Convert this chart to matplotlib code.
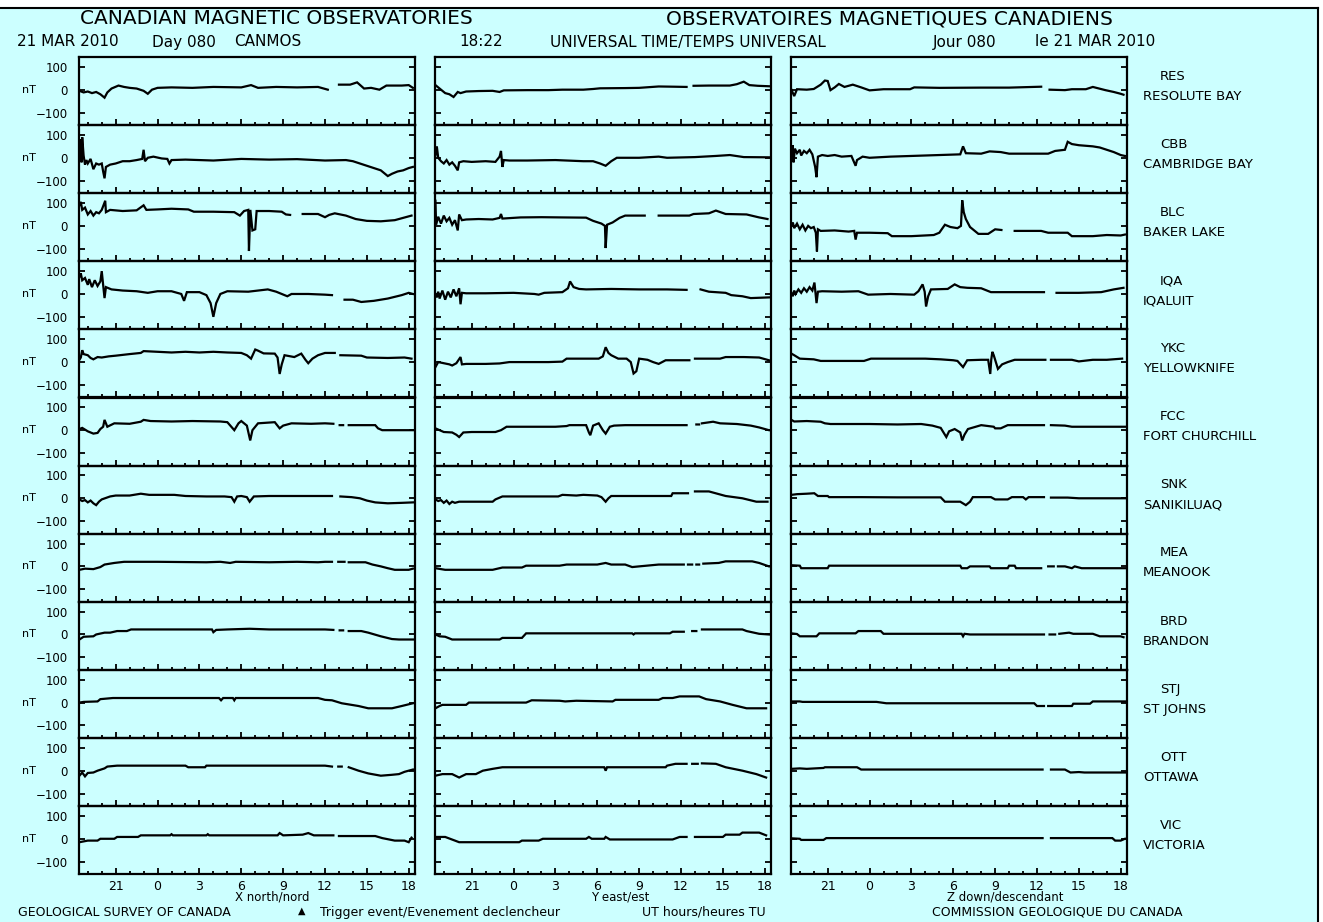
import matplotlib
matplotlib.use('Agg')
import matplotlib.pyplot as plt
import numpy as np
from matplotlib.patches import Rectangle
from matplotlib.lines import Line2D

# ---------------------------------------------------
# traces: (UT hour, nT) pairs, None = data gap; hours < 0 are the previous day

RES_X = [(-5.6,-5),(-5.3,-12),(-5.0,-8),(-4.7,-15),(-4.4,-10),(-4.1,-20),(-3.8,-35),(-3.6,-12),(-3.3,5),(-2.8,18),(-2.4,12),(-2.0,8),(-1.5,5),(-1.0,-5),(-0.7,-18),(-0.4,0),(0.0,8),(1.0,10),(2.5,8),(4.0,12),(6.0,10),(6.7,20),(7.2,8),(8.5,12),(10.0,10),(11.5,12),(12.2,0),(12.4,None),(13.0,22),(13.8,22),(14.3,32),(14.8,5),(15.3,8),(15.9,0),(16.4,18),(17.5,18),(18.0,20),(18.3,8)]
RES_Y = [(-5.6,20),(-5.3,5),(-4.9,-15),(-4.6,-20),(-4.3,-32),(-4.0,-10),(-3.8,-15),(-3.4,-8),(-2.5,-6),(-1.5,-5),(-1.0,-10),(-0.7,-3),(1.0,-2),(2.5,-2),(3.5,0),(5.0,0),(5.7,3),(6.2,6),(8.0,7),(9.0,8),(10.4,14),(11.5,13),(12.4,12),(12.5,None),(12.9,17),(14.0,18),(15.5,18),(16.0,24),(16.5,35),(16.9,20),(17.5,17),(18.3,15)]
RES_Z = [(-5.6,0),(-5.4,-28),(-5.2,2),(-4.5,0),(-4.0,3),(-3.5,22),(-3.2,40),(-3.0,38),(-2.8,-2),(-2.5,10),(-2.2,25),(-1.8,12),(-1.2,22),(-0.6,10),(0.0,-3),(1.0,2),(2.9,2),(3.2,10),(5.0,8),(8.0,9),(10.0,9),(12.3,13),(12.5,None),(12.9,0),(14.0,-2),(14.5,2),(15.5,2),(16.0,12),(16.9,-2),(17.5,-10),(18.0,-18),(18.2,-22)]

CBB_X = [(-5.6,20),(-5.5,80),(-5.45,-20),(-5.4,90),(-5.3,10),(-5.2,-30),(-5.1,-10),(-5.0,-25),(-4.8,-5),(-4.6,-50),(-4.4,-25),(-4.2,-30),(-4.0,-25),(-3.9,-60),(-3.8,-90),(-3.7,-40),(-3.4,-30),(-3.0,-25),(-2.5,-15),(-2.0,-15),(-1.5,-10),(-1.1,-5),(-1.0,35),(-0.9,-15),(-0.7,0),(-0.3,5),(0.3,-3),(0.7,-5),(0.85,-25),(1.0,-10),(2.0,-8),(4.0,-12),(6.0,-5),(8.0,-8),(10.0,-6),(12.0,-12),(13.5,-10),(14.0,-15),(14.5,-25),(15.0,-35),(15.5,-45),(16.0,-55),(16.5,-80),(16.8,-70),(17.2,-60),(17.6,-55),(18.0,-45),(18.3,-40)]
CBB_Y = [(-5.6,10),(-5.5,50),(-5.4,0),(-5.2,-15),(-5.0,-25),(-4.8,-10),(-4.6,-30),(-4.4,-20),(-4.2,-35),(-4.0,-55),(-3.9,-20),(-3.6,-15),(-3.0,-18),(-2.0,-15),(-1.3,-18),(-1.0,5),(-0.9,30),(-0.8,-40),(-0.7,-10),(-0.3,-12),(1.0,-12),(3.0,-10),(5.0,-15),(5.7,-15),(6.2,-25),(6.6,-35),(7.0,-15),(7.4,0),(9.0,0),(10.4,5),(11.0,0),(13.0,3),(14.5,8),(15.5,12),(16.5,3),(18.3,2)]
CBB_Z = [(-5.6,10),(-5.5,55),(-5.45,-20),(-5.35,40),(-5.2,20),(-5.0,35),(-4.9,10),(-4.7,30),(-4.5,20),(-4.3,35),(-4.1,15),(-3.9,-40),(-3.8,-85),(-3.7,5),(-3.4,12),(-3.0,8),(-2.5,12),(-2.0,5),(-1.3,8),(-1.0,-35),(-0.9,-10),(-0.5,5),(0.0,0),(1.5,5),(3.0,8),(5.0,12),(6.5,15),(6.7,50),(6.9,20),(8.0,18),(8.6,28),(9.4,25),(10.0,18),(12.8,18),(13.3,30),(14.0,35),(14.2,70),(14.5,60),(15.0,55),(16.0,50),(16.5,45),(17.0,35),(17.5,25),(18.0,12),(18.3,8)]

BLC_X = [(-5.6,90),(-5.5,105),(-5.4,70),(-5.2,80),(-5.0,50),(-4.8,65),(-4.6,45),(-4.4,60),(-4.2,55),(-4.0,70),(-3.75,110),(-3.7,60),(-3.4,70),(-2.5,65),(-1.5,68),(-1.0,90),(-0.8,70),(0.0,72),(1.0,75),(2.2,72),(2.6,62),(4.0,62),(5.5,60),(5.9,45),(6.2,65),(6.5,70),(6.55,-110),(6.65,70),(6.8,-20),(7.0,-15),(7.1,65),(8.0,65),(8.9,62),(9.2,50),(9.5,48),(9.55,None),(10.4,52),(11.5,52),(12.0,38),(12.3,48),(12.7,55),(13.5,45),(14.2,30),(15.0,22),(16.0,20),(17.0,25),(18.2,45)]
BLC_Y = [(-5.6,110),(-5.55,5),(-5.4,40),(-5.2,10),(-5.0,45),(-4.8,20),(-4.6,35),(-4.4,5),(-4.2,25),(-4.0,-20),(-3.9,50),(-3.7,25),(-3.4,28),(-2.5,30),(-1.5,28),(-1.0,35),(-0.9,52),(-0.8,32),(0.5,37),(2.0,38),(3.5,37),(5.2,36),(5.7,22),(6.3,10),(6.55,0),(6.6,-97),(6.7,5),(7.1,15),(7.6,35),(8.0,45),(9.4,45),(9.45,None),(10.4,45),(12.6,45),(12.9,52),(14.0,55),(14.5,67),(15.2,52),(16.7,50),(17.6,37),(18.2,30)]
BLC_Z = [(-5.6,0),(-5.5,15),(-5.4,-10),(-5.2,10),(-5.0,-15),(-4.8,5),(-4.6,-20),(-4.4,0),(-4.2,-10),(-4.0,-5),(-3.85,-30),(-3.77,-112),(-3.7,-15),(-3.5,-22),(-2.5,-20),(-1.5,-25),(-1.1,-22),(-1.0,-60),(-0.9,-30),(0.0,-30),(1.3,-32),(1.6,-45),(3.0,-45),(4.6,-40),(5.0,-30),(5.4,5),(5.8,-5),(6.3,-10),(6.55,0),(6.64,112),(6.75,60),(6.9,30),(7.2,-5),(7.8,-35),(8.5,-35),(9.0,-15),(9.45,-18),(9.5,None),(10.4,-22),(12.3,-22),(12.8,-30),(14.2,-30),(14.5,-45),(16.0,-45),(17.0,-40),(18.0,-42),(18.3,-38)]

IQA_X = [(-5.6,75),(-5.5,90),(-5.4,60),(-5.2,70),(-5.0,40),(-4.9,65),(-4.7,30),(-4.5,60),(-4.3,35),(-4.1,55),(-4.0,100),(-3.9,40),(-3.8,-18),(-3.7,30),(-3.3,20),(-2.5,15),(-1.5,12),(-0.7,5),(0.0,12),(1.0,12),(1.7,0),(1.9,-30),(2.1,8),(3.0,8),(3.5,-5),(3.8,-40),(4.0,-100),(4.2,-40),(4.5,0),(5.0,12),(6.5,10),(7.9,20),(8.5,10),(9.3,-10),(9.6,0),(10.8,0),(12.0,-3),(12.5,-5),(12.6,None),(13.4,-25),(14.0,-25),(14.6,-35),(15.5,-30),(16.5,-20),(17.5,-5),(18.0,5),(18.3,0)]
IQA_Y = [(-5.6,0),(-5.5,-15),(-5.4,10),(-5.3,-20),(-5.1,15),(-4.9,-25),(-4.7,10),(-4.5,-15),(-4.3,20),(-4.1,-10),(-3.9,25),(-3.8,-45),(-3.7,5),(-3.4,3),(-2.0,3),(0.0,5),(1.5,0),(1.8,-3),(2.2,5),(3.5,8),(3.9,25),(4.05,55),(4.3,30),(4.7,22),(5.2,20),(7.0,22),(9.0,20),(11.0,20),(12.4,18),(12.5,None),(13.4,20),(14.0,10),(15.2,5),(15.6,-5),(16.4,-10),(17.0,-18),(18.3,-15)]
IQA_Z = [(-5.6,5),(-5.5,-10),(-5.4,15),(-5.3,0),(-5.1,20),(-4.9,5),(-4.7,25),(-4.5,10),(-4.3,30),(-4.1,15),(-3.95,50),(-3.8,-40),(-3.7,10),(-3.4,12),(-2.0,10),(-0.8,12),(-0.1,-3),(1.5,0),(3.2,-3),(3.5,12),(3.8,42),(3.95,10),(4.05,-55),(4.2,-10),(4.4,20),(5.6,22),(6.1,42),(6.5,30),(7.0,27),(8.0,25),(8.7,8),(10.0,8),(12.5,8),(12.6,None),(13.4,5),(15.0,5),(16.6,8),(17.5,20),(18.2,27)]

YKC_X = [(-5.6,10),(-5.5,20),(-5.4,52),(-5.3,35),(-5.0,30),(-4.8,18),(-4.6,12),(-4.3,22),(-4.0,20),(-3.5,25),(-3.0,28),(-2.0,35),(-1.2,40),(-1.0,48),(0.0,45),(1.0,42),(2.0,45),(3.0,42),(4.0,45),(5.0,42),(6.0,40),(6.4,30),(6.7,15),(7.0,55),(7.2,50),(7.6,38),(8.4,37),(8.6,20),(8.75,-52),(8.9,-10),(9.1,30),(9.8,22),(10.3,37),(10.6,10),(10.8,-5),(11.1,15),(11.5,30),(12.0,40),(12.7,40),(12.8,None),(13.1,30),(14.6,28),(15.0,20),(16.5,18),(17.7,20),(18.2,15)]
YKC_Y = [(-5.6,-22),(-5.4,0),(-5.0,-5),(-4.6,-10),(-4.4,-15),(-4.1,-5),(-3.8,22),(-3.7,-10),(-3.4,-8),(-2.0,-8),(-1.0,-6),(-0.3,0),(1.0,0),(2.5,0),(3.5,2),(3.8,15),(5.0,15),(6.1,15),(6.4,25),(6.6,65),(6.8,40),(7.0,30),(7.5,15),(8.1,15),(8.4,0),(8.6,-50),(8.8,-40),(9.0,15),(9.6,10),(10.0,0),(10.4,-8),(10.9,8),(12.6,8),(12.7,None),(13.0,15),(14.8,15),(15.2,22),(16.5,22),(17.6,20),(18.3,8)]
YKC_Z = [(-5.6,37),(-5.4,30),(-5.0,15),(-4.0,12),(-3.5,5),(-2.0,5),(-0.4,5),(0.1,15),(2.0,15),(4.0,15),(5.1,12),(6.0,8),(6.3,5),(6.7,-22),(7.0,8),(8.0,10),(8.5,10),(8.65,-52),(8.72,10),(8.8,45),(8.9,30),(9.2,-30),(9.5,-10),(9.9,0),(10.4,10),(12.6,10),(12.7,None),(13.0,10),(14.5,10),(15.0,3),(16.0,10),(17.0,10),(18.1,15)]

FCC_X = [(-5.6,5),(-5.4,10),(-5.0,-5),(-4.6,-15),(-4.3,-12),(-4.1,5),(-3.9,15),(-3.8,45),(-3.6,15),(-3.1,30),(-2.0,28),(-1.2,37),(-1.0,45),(-0.5,40),(1.0,38),(2.5,40),(4.5,38),(5.0,35),(5.5,0),(5.8,30),(6.0,40),(6.4,20),(6.64,-45),(6.8,0),(7.2,30),(8.4,35),(8.75,8),(9.0,20),(9.6,30),(11.0,28),(12.0,30),(12.6,28),(12.7,None),(13.05,22),(13.3,22),(13.35,None),(13.7,22),(15.6,22),(15.8,8),(16.1,0),(18.3,0)]
FCC_Y = [(-5.6,8),(-5.3,0),(-5.0,-8),(-4.4,-10),(-4.1,-20),(-3.9,-30),(-3.6,-10),(-3.0,-8),(-1.3,-8),(-0.9,0),(-0.5,15),(1.0,15),(3.0,15),(3.8,18),(4.0,22),(5.2,22),(5.4,-10),(5.5,-22),(5.7,20),(6.1,30),(6.4,0),(6.6,-15),(6.9,15),(7.2,20),(8.0,22),(10.0,22),(12.4,22),(12.5,None),(13.1,25),(13.3,25),(13.35,None),(13.5,30),(14.3,37),(14.8,30),(16.0,27),(17.0,20),(17.6,12),(18.3,0)]
FCC_Z = [(-5.6,45),(-5.4,38),(-4.5,40),(-3.5,37),(-3.2,30),(-2.8,27),(0.0,27),(2.0,25),(3.7,27),(4.5,20),(5.1,10),(5.5,-30),(5.7,-5),(6.1,5),(6.5,-10),(6.64,-45),(6.8,-20),(7.05,5),(8.0,22),(8.9,15),(9.0,8),(9.4,8),(9.9,22),(12.5,22),(12.6,None),(13.0,22),(14.0,20),(14.5,15),(18.3,15)]

SNK_X = [(-5.6,-5),(-5.4,-12),(-5.2,-8),(-5.0,-18),(-4.8,-10),(-4.6,-22),(-4.4,-30),(-4.2,-15),(-4.0,-5),(-3.4,8),(-3.0,12),(-2.0,12),(-1.2,20),(-0.6,15),(1.2,15),(2.0,10),(3.5,8),(4.8,8),(5.3,5),(5.5,-15),(5.7,8),(6.0,10),(6.4,5),(6.6,-15),(6.9,8),(8.0,10),(10.0,10),(12.0,10),(12.5,10),(12.6,None),(13.1,8),(13.9,5),(14.5,0),(15.0,-10),(15.6,-18),(16.5,-22),(17.5,-20),(18.3,-18)]
SNK_Y = [(-5.6,-5),(-5.4,-12),(-5.2,-8),(-5.0,-20),(-4.8,-10),(-4.6,-25),(-4.4,-15),(-4.2,-20),(-3.9,-15),(-2.5,-15),(-1.5,-15),(-1.3,-5),(-0.8,8),(1.0,8),(3.2,8),(3.5,15),(4.5,12),(5.0,15),(6.0,12),(6.3,5),(6.6,-15),(6.8,0),(7.0,10),(9.0,10),(11.3,10),(11.4,22),(12.5,22),(12.6,None),(13.0,30),(14.0,30),(15.2,10),(16.4,0),(17.4,-15),(18.2,-15)]
SNK_Z = [(-5.6,15),(-5.2,18),(-4.5,20),(-3.96,22),(-3.7,10),(-3.0,10),(-2.9,5),(-1.3,5),(-0.6,5),(2.0,4),(5.1,4),(5.4,-15),(6.1,-15),(6.5,-15),(6.9,-30),(7.2,-15),(7.4,5),(8.7,5),(9.0,-5),(9.9,-5),(10.2,5),(11.0,5),(11.2,-5),(11.4,5),(12.5,5),(12.6,None),(13.0,3),(14.2,3),(15.0,0),(18.3,0)]

MEA_X = [(-5.6,-15),(-5.2,-10),(-4.6,-12),(-4.1,-3),(-3.8,8),(-3.1,15),(-2.4,20),(0.0,20),(3.5,18),(4.5,20),(5.2,15),(5.6,20),(8.0,18),(10.0,20),(11.5,18),(12.0,20),(12.5,20),(12.6,None),(12.95,20),(13.4,20),(13.5,None),(13.7,18),(14.9,18),(15.4,8),(16.0,0),(16.5,-8),(17.0,-15),(18.0,-15),(18.3,-10)]
MEA_Y = [(-5.6,-8),(-5.2,-12),(-4.9,-15),(-3.0,-15),(-1.5,-15),(-0.8,-5),(0.6,-5),(0.9,3),(3.3,3),(3.8,8),(6.0,8),(6.6,15),(7.0,8),(8.0,8),(8.5,-3),(9.0,0),(10.4,8),(11.5,8),(12.2,8),(12.3,None),(12.5,8),(12.8,8),(12.9,None),(13.1,8),(13.3,8),(13.4,None),(13.6,12),(14.7,15),(15.2,22),(17.1,22),(17.6,15),(18.3,0)]
MEA_Z = [(-5.6,5),(-5.0,3),(-4.9,-8),(-3.0,-8),(-2.9,3),(2.0,3),(6.0,3),(6.5,3),(6.6,-8),(7.0,-8),(7.2,0),(8.6,0),(8.7,-8),(9.9,-8),(10.0,3),(10.4,3),(10.5,-8),(12.3,-8),(12.5,None),(12.8,0),(13.2,0),(13.3,None),(13.5,0),(14.0,0),(14.5,-8),(14.7,0),(15.2,-8),(18.3,-8)]

BRD_X = [(-5.6,-22),(-5.3,-10),(-4.6,-8),(-4.4,0),(-3.8,8),(-3.4,8),(-2.9,15),(-2.2,15),(-1.9,22),(0.0,22),(2.0,22),(3.9,22),(4.0,10),(4.2,20),(5.0,22),(6.6,25),(8.0,22),(10.0,22),(12.0,22),(12.6,20),(12.7,None),(13.05,18),(13.3,18),(13.4,None),(13.7,15),(14.6,15),(15.1,8),(16.0,-8),(16.8,-20),(17.3,-22),(18.3,-22)]
BRD_Y = [(-5.6,0),(-5.3,-8),(-4.9,-10),(-4.4,-22),(-2.0,-22),(-1.0,-22),(-0.8,-15),(0.6,-15),(0.9,5),(4.0,5),(8.5,5),(8.6,0),(8.7,5),(11.2,5),(11.4,12),(12.2,12),(12.3,None),(12.8,15),(13.1,15),(13.2,None),(13.5,22),(16.4,22),(16.7,15),(17.6,3),(18.3,0)]
BRD_Z = [(-5.6,5),(-5.2,2),(-5.0,-8),(-3.8,-8),(-3.6,5),(-1.0,5),(-0.8,15),(0.8,15),(1.0,3),(6.6,3),(6.7,-8),(6.8,3),(7.2,0),(10.0,0),(12.5,0),(12.6,None),(12.9,0),(13.3,0),(13.4,None),(13.6,3),(14.3,8),(14.6,3),(16.0,3),(16.5,-8),(18.0,-8),(18.2,-12)]

STJ_X = [(-5.6,0),(-5.3,3),(-4.3,5),(-4.1,15),(-3.2,20),(0.0,20),(2.0,20),(4.4,20),(4.55,10),(4.7,20),(5.4,20),(5.5,10),(5.6,20),(8.0,20),(10.0,20),(11.5,20),(12.0,12),(12.5,10),(13.2,-3),(14.4,-15),(15.1,-25),(16.0,-25),(16.8,-25),(17.5,-15),(18.3,-3)]
STJ_Y = [(-5.6,-25),(-5.3,-15),(-5.1,-10),(-3.4,-10),(-3.2,0),(0.9,0),(1.3,10),(3.3,8),(3.7,5),(4.5,8),(7.1,5),(7.3,12),(10.4,12),(10.7,20),(11.4,20),(11.9,27),(13.3,27),(13.8,15),(14.8,5),(15.7,-10),(16.7,-25),(18.1,-25)]
STJ_Z = [(-5.6,5),(-5.0,5),(-4.8,3),(0.5,3),(1.2,-3),(5.0,-3),(10.0,-3),(11.8,-3),(12.0,-15),(12.5,-15),(12.6,None),(12.8,-15),(14.5,-15),(14.6,-5),(15.8,-5),(16.0,5),(18.3,5)]

OTT_X = [(-5.6,-22),(-5.4,-8),(-5.2,-25),(-5.0,-10),(-4.6,-8),(-4.3,0),(-3.8,10),(-3.6,18),(-2.9,22),(0.0,22),(2.0,22),(2.2,15),(2.6,15),(3.4,15),(3.5,22),(6.0,22),(8.0,22),(10.0,22),(12.0,22),(12.5,18),(12.6,None),(12.95,18),(13.2,18),(13.3,None),(13.7,15),(14.4,0),(15.1,-12),(16.0,-22),(16.8,-18),(17.3,-15),(17.7,-5),(18.3,5)]
OTT_Y = [(-5.6,-22),(-5.1,-15),(-4.4,-15),(-3.9,-30),(-3.4,-15),(-2.7,-15),(-2.2,0),(-1.5,8),(-0.8,15),(3.0,15),(6.5,15),(6.6,0),(6.7,15),(10.9,15),(11.0,22),(11.6,30),(12.4,30),(12.5,None),(12.8,30),(13.2,30),(13.3,None),(13.5,32),(14.5,30),(15.2,15),(16.4,0),(17.4,-15),(18.1,-30)]
OTT_Z = [(-5.6,8),(-5.0,10),(-4.5,8),(-3.3,12),(-3.2,15),(-0.9,15),(-0.6,5),(5.0,5),(10.0,5),(12.4,5),(12.5,None),(13.0,5),(14.0,5),(14.4,-8),(15.0,-6),(15.4,-8),(18.3,-8)]

VIC_X = [(-5.6,-15),(-5.0,-8),(-4.3,-8),(-4.1,0),(-3.1,0),(-2.9,8),(-1.4,8),(-1.2,15),(0.9,15),(1.0,20),(1.1,15),(3.5,15),(3.6,20),(3.7,15),(8.6,15),(8.75,25),(9.0,15),(10.4,18),(10.8,25),(11.2,15),(12.0,15),(12.6,15),(12.7,None),(13.0,12),(15.6,12),(16.1,3),(17.0,-8),(17.7,-8),(18.0,-15),(18.2,5)]
VIC_Y = [(-5.6,8),(-4.9,8),(-4.2,-8),(-3.9,-15),(0.4,-15),(0.6,-8),(1.8,-8),(2.1,0),(5.2,0),(5.4,8),(5.6,0),(6.5,0),(6.6,8),(6.9,-3),(11.4,-3),(11.9,8),(12.4,8),(12.5,None),(13.0,8),(15.0,8),(15.2,18),(16.2,18),(16.4,27),(17.6,27),(18.1,15)]
VIC_Z = [(-5.6,2),(-5.0,0),(-4.9,-5),(-3.3,-5),(-3.1,3),(5.0,3),(12.4,3),(12.5,None),(13.0,3),(17.4,3),(17.6,-8),(18.0,-8),(18.3,0)]

codes = ['RES', 'CBB', 'BLC', 'IQA', 'YKC', 'FCC', 'SNK', 'MEA', 'BRD', 'STJ', 'OTT', 'VIC']
names = ['RESOLUTE BAY', 'CAMBRIDGE BAY', 'BAKER LAKE', 'IQALUIT', 'YELLOWKNIFE',
         'FORT CHURCHILL', 'SANIKILUAQ', 'MEANOOK', 'BRANDON', 'ST JOHNS', 'OTTAWA', 'VICTORIA']
traces = [
    [RES_X, RES_Y, RES_Z], [CBB_X, CBB_Y, CBB_Z], [BLC_X, BLC_Y, BLC_Z],
    [IQA_X, IQA_Y, IQA_Z], [YKC_X, YKC_Y, YKC_Z], [FCC_X, FCC_Y, FCC_Z],
    [SNK_X, SNK_Y, SNK_Z], [MEA_X, MEA_Y, MEA_Z], [BRD_X, BRD_Y, BRD_Z],
    [STJ_X, STJ_Y, STJ_Z], [OTT_X, OTT_Y, OTT_Z], [VIC_X, VIC_Y, VIC_Z],
]
hour_ticks = [-3, 0, 3, 6, 9, 12, 15, 18]
hour_labels = ['21', '0', '3', '6', '9', '12', '15', '18']
comp_labels = ['X north/nord', 'Y east/est', 'Z down/descendant']

# ---------------------------------------------------

W, H = 1323, 922
BG = '#ccffff'
fig = plt.figure(figsize=(W / 100, H / 100), dpi=100, facecolor='white')

def fx(x):
    return x / W

def fy(y):
    return 1 - y / H

fig.patches.append(Rectangle((0, 0), fx(1318), fy(8), transform=fig.transFigure,
                             facecolor=BG, edgecolor='none', zorder=-10))
fig.lines.append(Line2D([0, fx(1318)], [fy(8), fy(8)], transform=fig.transFigure, color='black', lw=1.5))
fig.lines.append(Line2D([fx(1318), fx(1318)], [0, fy(8)], transform=fig.transFigure, color='black', lw=1.5))

col_left = [79, 435, 791]
col_w = 336
row_top = 57
row_h = 68.1

for r in range(12):
    for c in range(3):
        top = row_top + r * row_h
        ax = fig.add_axes([fx(col_left[c]), fy(top + row_h), col_w / W, row_h / H])
        ax.set_facecolor('none')
        pts = traces[r][c]
        t = np.array([p[0] for p in pts], dtype=float)
        v = np.array([np.nan if p[1] is None else p[1] for p in pts], dtype=float)
        ax.plot(t, v, color='black', lw=1.6, solid_joinstyle='miter')
        ax.set_xlim(-5.63, 18.45)
        ax.set_ylim(-155, 143)
        ax.set_xticks(hour_ticks)
        ax.set_xticks(range(-5, 19), minor=True)
        ax.set_yticks([-100, 0, 100])
        ax.tick_params(axis='x', which='major', direction='in', length=4.5, width=1.3,
                       labelsize=9, pad=4, labelbottom=(r == 11))
        ax.tick_params(axis='x', which='minor', direction='in', length=2, width=1.3)
        ax.tick_params(axis='y', direction='in', length=4, width=1.3, left=True, right=True,
                       labelsize=8.5, pad=8, labelleft=(c == 0))
        if r == 11:
            ax.set_xticklabels(hour_labels)
        for s in ax.spines.values():
            s.set_linewidth(1.6)
        if c == 0:
            ax.text(-0.15, 0, 'nT', transform=ax.get_yaxis_transform(),
                    ha='center', va='center', fontsize=8)
    zero_y = row_top + r * row_h + 31.3
    fig.text(fx(1160), fy(zero_y - 12), codes[r], ha='left', va='center', fontsize=9.5)
    fig.text(fx(1143), fy(zero_y + 8), names[r], ha='left', va='center', fontsize=9.5)

for c in range(3):
    x6 = col_left[c] + (6 + 5.63) / 24.08 * col_w
    fig.text(fx(x6 - 6), fy(897), comp_labels[c], ha='left', va='center', fontsize=8.5)

# header
fig.text(fx(80), fy(19), 'CANADIAN MAGNETIC OBSERVATORIES', ha='left', va='center', fontsize=14.5)
fig.text(fx(666), fy(19), 'OBSERVATOIRES MAGNETIQUES CANADIENS', ha='left', va='center', fontsize=14.5)
fig.text(fx(17), fy(42), '21 MAR 2010', ha='left', va='center', fontsize=11)
fig.text(fx(152), fy(42), 'Day 080', ha='left', va='center', fontsize=11)
fig.text(fx(234), fy(42), 'CANMOS', ha='left', va='center', fontsize=11)
fig.text(fx(459), fy(42), '18:22', ha='left', va='center', fontsize=11)
fig.text(fx(550), fy(42), 'UNIVERSAL TIME/TEMPS UNIVERSAL', ha='left', va='center', fontsize=11)
fig.text(fx(933), fy(42), 'Jour 080', ha='left', va='center', fontsize=11)
fig.text(fx(1035), fy(42), 'le 21 MAR 2010', ha='left', va='center', fontsize=11)

# footer
fig.text(fx(18), fy(912), 'GEOLOGICAL SURVEY OF CANADA', ha='left', va='center', fontsize=9)
fig.text(fx(302), fy(911), '\u25b2', ha='center', va='center', fontsize=7)
fig.text(fx(320), fy(912), 'Trigger event/Evenement declencheur', ha='left', va='center', fontsize=9)
fig.text(fx(642), fy(912), 'UT hours/heures TU', ha='left', va='center', fontsize=9)
fig.text(fx(932), fy(912), 'COMMISSION GEOLOGIQUE DU CANADA', ha='left', va='center', fontsize=9)

fig.savefig('out.png', dpi=100, facecolor='white')
